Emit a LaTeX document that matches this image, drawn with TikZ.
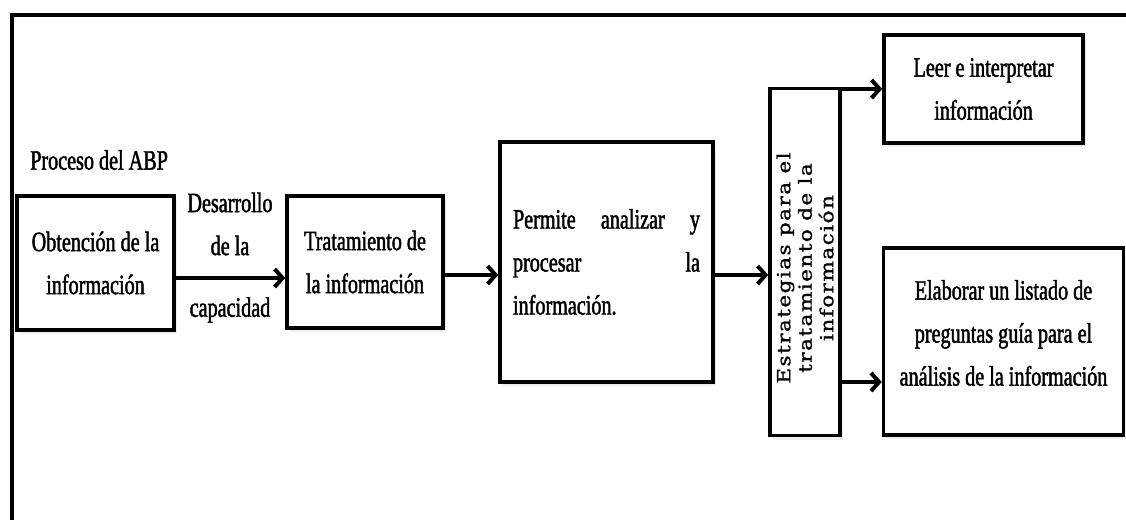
\documentclass[tikz,border=0pt]{standalone}
\usepackage{fontspec}
\setmainfont[FakeStretch=0.72,FakeBold=1.6]{Liberation Serif}
\newfontfamily\vertfont[FakeStretch=1.2,LetterSpace=8,FakeBold=1.4]{DejaVu Serif}
\usetikzlibrary{arrows.meta,shadows}
\tikzset{
  x=1pt, y=-1pt,
  box/.style={draw=black, line width=3.5pt, fill=white, rectangle, inner sep=0pt,
    align=center, font=\fontsize{28}{43}\selectfont,
    drop shadow={opacity=0.12, shadow xshift=3pt, shadow yshift=-4pt}},
  lbl/.style={align=center, font=\fontsize{28}{43}\selectfont, inner sep=0pt},
  arr/.style={line width=4.5pt, -{Straight Barb[length=8pt,width=18pt,line width=4pt]}},
}
\begin{document}
\begin{tikzpicture}
\useasboundingbox (0,0) rectangle (1126,519);
\fill[white] (0,0) rectangle (1126,519);
% outer frame (left and top edges)
\draw[line width=4.5pt] (12,521) -- (12,15) -- (1128,15);

\node[lbl, anchor=west] (proc) at (30,160) {Proceso del ABP};

\node[box, minimum width=157pt, minimum height=134pt] (obt) at (95.5,263)
  {Obtención de la\\información};
\node[box, minimum width=156pt, minimum height=132pt] (trat) at (365,262)
  {Tratamiento de\\la información};
\node[box, minimum width=213pt, minimum height=240pt] (perm) at (606.5,262)
  {\parbox{187pt}{\fontsize{28}{43}\selectfont\noindent Permite analizar y\linebreak procesar la\linebreak información.}};
\node[box, minimum width=70pt, minimum height=347pt] (estr) at (805,262) {};
\node[rotate=90, align=center, inner sep=0pt, font=\vertfont\fontsize{18}{21.5}\selectfont] (estrt) at (805,268)
  {Estrategias para el\\tratamiento de la\\información};
\node[box, minimum width=199pt, minimum height=108pt] (leer) at (983.5,89)
  {Leer e interpretar\\información};
\node[box, minimum width=240pt, minimum height=187pt] (elab) at (1003.5,341.5) {};
\node[lbl] (elabt) at (1003.5,333)
  {Elaborar un listado de\\preguntas guía para el\\análisis de la información};

\node[lbl] (des) at (230,224) {Desarrollo\\de la};
\node[lbl] (cap) at (230,310) {capacidad};

\coordinate (y1) at (0,278);
\coordinate (y2) at (0,275);
\coordinate (y3) at (0,382);
\draw[arr] (obt.east |- y1) -- (trat.west |- y1);
\draw[arr] (trat.east |- y2) -- (perm.west |- y2);
\draw[arr] (perm.east |- y2) -- (estr.west |- y2);
\draw[arr] (estr.north east |- leer.west) -- (leer.west);
\draw[arr] (estr.east |- y3) -- (elab.west |- y3);
\end{tikzpicture}
\end{document}
